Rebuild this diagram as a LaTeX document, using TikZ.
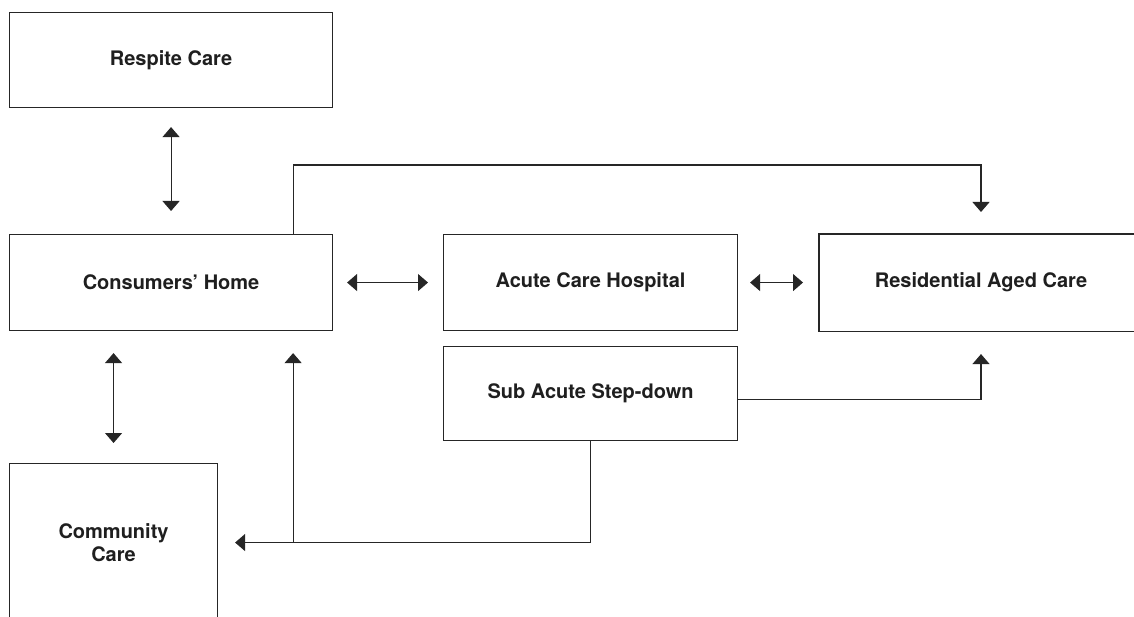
\documentclass[tikz,border=0pt]{standalone}
\usepackage{fontspec}
\setmainfont{TeX Gyre Heros}
\usetikzlibrary{arrows.meta,calc}
\begin{document}
\begin{tikzpicture}[x=1pt,y=-1pt,
  >={Triangle[width=17pt,length=10pt]},
  box/.style={draw=black!85, line width=1.1pt, inner sep=0pt, anchor=north west,
    font=\bfseries\fontsize{20}{23}\selectfont, align=center, text=black!88},
  conn/.style={draw=black!85, line width=1.1pt}]
\clip (0,0) rectangle (1134,617);
\fill[white] (0,0) rectangle (1134,617);

\node[box, minimum width=323pt, minimum height=95pt] (respite) at (9,12) {Respite Care};
\node[box, minimum width=323pt, minimum height=96pt] (home) at (9,234) {Consumers’ Home};
\node[box, minimum width=294pt, minimum height=96pt] (acute) at (443,234) {Acute Care Hospital};
\node[box, draw=none, minimum width=323pt, minimum height=96pt] (res) at (819,234) {Residential Aged Care};
\draw[conn] ($(res.north east)+(30,0)$) -- (res.north west) -- (res.south west) -- ($(res.south east)+(30,0)$);
\node[box, minimum width=294pt, minimum height=94pt] (sub) at (443,346) {Sub Acute Step-down};
\node[box, minimum width=208pt, minimum height=158pt] (comm) at (9,463) {Community\\Care};

\coordinate (topA) at ($(home.north east)+(-40,0)$);
\coordinate (resTop) at ($(res.north west)+(162,0)$);
\coordinate (resBot) at ($(res.south west)+(162,0)$);
\coordinate (subR) at ($(sub.east)+(0,6)$);

\draw[conn,<->,shorten <=19pt,shorten >=23pt] (respite.south) -- (respite.south |- home.north);
\draw[conn,<->,shorten <=22pt,shorten >=20pt] (comm.north |- home.south) -- (comm.north);
\draw[conn,<->,shorten <=14pt,shorten >=15pt] (home.east) -- (acute.west);
\draw[conn,<->,shorten <=12pt,shorten >=16pt] (acute.east) -- (res.west);
\draw[conn,->,shorten >=22pt] (topA) -- ++(0,-69) -| (resTop);
\draw[conn,->,shorten >=23pt] (subR) -| (resBot);
\draw[conn,->,shorten >=17pt] (sub.south) |- (comm.east);
\draw[conn,->,shorten >=22pt] (comm.east -| topA) -- (topA |- home.south);
\end{tikzpicture}
\end{document}
